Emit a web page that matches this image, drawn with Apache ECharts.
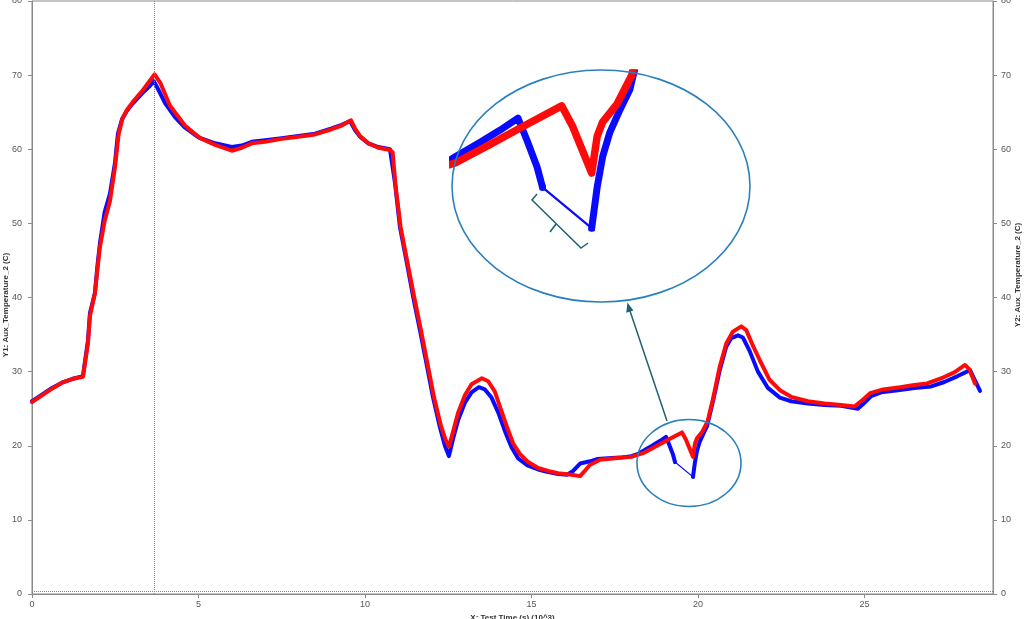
<!DOCTYPE html>
<html>
<head>
<meta charset="utf-8">
<script src="https://cdn.jsdelivr.net/npm/echarts@6/dist/echarts.min.js"></script>
<style>
html,body{margin:0;padding:0;background:#fff;}
#chart{width:1024px;height:619px;}
</style>
</head>
<body>
<div id="chart"></div>
<script>
// X: Test Time (s) (10^3), Y: Aux_Temperature_2 (C)
const xMin = 0;
const xMax = 28.86;
const yTicks = [0, 10, 20, 30, 40, 50, 60, 70, 80];
const xTicks = [0, 5, 10, 15, 20, 25];
const cursorX = 3.66;
const baseLineY = 0.4;
const gapStart = 19.31;
const gapEnd = 19.85;
const insetXRange = [18.326, 21.535];
const insetYRange = [12.28, 23.41];
const y1Title = 'Y1: Aux_Temperature_2 (C)';
const y2Title = 'Y2: Aux_Temperature_2 (C)';
const xTitle = 'X: Test Time (s) (10^3)';

const blueSeries = [
  [0,26.0],[0.3,26.9],[0.6,27.8],[0.9,28.5],[1.2,29.0],[1.53,29.4],[1.68,34.2],[1.74,37.9],
  [1.89,40.6],[1.97,44.5],[2.04,47.3],[2.18,51.5],[2.34,54.0],[2.49,58.1],[2.58,62.1],[2.7,64.0],
  [2.85,65.2],[3.03,66.2],[3.3,67.5],[3.55,68.6],[3.66,69.2],[3.8,68.0],[4.0,66.2],[4.3,64.3],
  [4.6,62.9],[5.0,61.6],[5.5,60.8],[6.0,60.3],[6.3,60.5],[6.6,61.0],[7.0,61.2],[7.5,61.5],
  [8.0,61.8],[8.5,62.1],[9.0,62.8],[9.3,63.3],[9.55,63.8],[9.7,62.6],[9.85,61.7],[10.1,60.8],
  [10.4,60.3],[10.75,60.0],[10.81,59.8],[10.9,55.5],[11.05,49.5],[11.26,44.6],[11.45,40.0],
  [11.65,35.6],[11.85,31.0],[12.04,26.6],[12.25,22.5],[12.4,20.0],[12.52,18.6],[12.65,21.0],
  [12.8,23.5],[13.0,25.8],[13.2,27.2],[13.42,27.9],[13.6,27.6],[13.8,26.5],[14.0,24.5],
  [14.2,22.0],[14.4,19.8],[14.6,18.3],[14.86,17.4],[15.2,16.8],[15.47,16.5],[15.8,16.2],
  [16.07,16.1],[16.25,16.6],[16.46,17.6],[16.76,17.9],[16.97,18.2],[17.3,18.3],[17.66,18.4],
  [18.0,18.6],[18.2,18.9],[18.35,19.3],[18.62,20.0],[18.84,20.6],[19.04,21.2],[19.14,20.1],
  [19.25,18.8],[19.31,17.8],[19.85,15.8],[19.91,17.8],[19.97,19.3],[20.05,20.5],[20.16,21.6],
  [20.27,22.6],[20.45,26.0],[20.66,30.3],[20.85,33.4],[21.0,34.5],[21.2,34.9],[21.35,34.6],
  [21.55,32.8],[21.8,30.0],[22.1,27.8],[22.46,26.5],[22.8,26.0],[23.3,25.7],[23.8,25.5],
  [24.3,25.4],[24.8,25.0],[25.0,25.8],[25.2,26.7],[25.5,27.2],[26.0,27.5],[26.5,27.8],
  [27.0,28.0],[27.4,28.6],[27.8,29.4],[28.17,30.2],[28.3,29.0],[28.47,27.4]
];

const redSeries = [
  [0,25.9],[0.3,26.8],[0.6,27.7],[0.9,28.5],[1.2,29.0],[1.53,29.3],[1.68,33.8],[1.74,37.5],
  [1.89,40.6],[1.97,44.0],[2.04,46.8],[2.18,50.3],[2.34,53.0],[2.49,57.5],[2.6,62.0],[2.72,64.2],
  [2.85,65.3],[3.03,66.4],[3.3,67.8],[3.55,69.3],[3.68,70.1],[3.85,69.0],[4.14,65.9],[4.59,63.2],
  [5.05,61.5],[5.5,60.6],[6.0,59.8],[6.3,60.2],[6.6,60.8],[7.0,61.0],[7.5,61.4],[8.0,61.7],
  [8.5,62.0],[9.0,62.7],[9.3,63.2],[9.58,63.9],[9.7,62.8],[9.85,61.8],[10.1,60.8],[10.4,60.2],
  [10.75,59.9],[10.83,59.6],[10.92,55.0],[11.07,49.5],[11.28,44.6],[11.48,40.0],[11.68,35.6],
  [11.88,31.0],[12.07,26.6],[12.28,22.7],[12.42,20.8],[12.52,19.9],[12.65,22.0],[12.8,24.5],
  [13.0,26.8],[13.2,28.3],[13.51,29.1],[13.7,28.7],[13.9,27.3],[14.05,25.3],[14.25,22.7],
  [14.45,20.3],[14.65,18.9],[14.9,17.8],[15.2,17.0],[15.5,16.6],[15.8,16.3],[16.2,16.1],
  [16.46,15.9],[16.6,16.6],[16.75,17.4],[17.06,18.1],[17.5,18.3],[18.0,18.5],[18.35,19.0],
  [18.73,19.9],[19.1,20.8],[19.52,21.8],[19.64,20.8],[19.75,19.6],[19.85,18.5],[19.91,20.3],
  [19.97,21.0],[20.13,21.9],[20.29,23.3],[20.45,26.3],[20.66,30.8],[20.85,33.8],[21.05,35.4],
  [21.3,36.1],[21.45,35.6],[21.65,33.5],[21.86,31.5],[22.15,28.9],[22.46,27.5],[22.8,26.6],
  [23.3,26.0],[23.8,25.7],[24.3,25.5],[24.7,25.3],[24.95,26.2],[25.17,27.1],[25.56,27.6],
  [26.07,27.9],[26.5,28.2],[26.88,28.4],[27.36,29.2],[27.7,29.9],[28.02,30.9],[28.15,30.3],
  [28.32,28.4]
];

const BLUE = '#0a0aff';
const RED = '#ff0a0a';
const TEAL = '#1e6272';
const RING = '#2a80bd';
const AXIS = '#8a8a8a';
const FONT = 'Liberation Sans, Arial, sans-serif';

const blueA = blueSeries.filter(p => p[0] <= gapStart);
const blueGap = blueSeries.filter(p => p[0] >= gapStart && p[0] <= gapEnd);
const blueB = blueSeries.filter(p => p[0] >= gapEnd);

function lineS(name, data, color, width, xi, yi, z, extra) {
  return Object.assign({
    name: name, type: 'line', data: data, xAxisIndex: xi, yAxisIndex: yi,
    showSymbol: false, symbol: 'none', smooth: false, z: z,
    lineStyle: { color: color, width: width, join: 'round', cap: 'round' },
    itemStyle: { color: color }, animation: false, silent: true
  }, extra || {});
}

const chart = echarts.init(document.getElementById('chart'), null, { renderer: 'canvas' });

const axisLabelStyle = { color: '#555', fontSize: 9, fontFamily: FONT };
const nameStyle = { color: '#333', fontSize: 8, fontWeight: 'bold', fontFamily: FONT };

const option = {
  backgroundColor: '#fff',
  animation: false,
  grid: [
    { left: 32, right: 31, top: 1, bottom: 25, containLabel: false, outerBoundsMode: 'none',
      show: true, borderColor: AXIS, borderWidth: 1, backgroundColor: 'transparent' },
    { left: 453, top: 73, width: 292, height: 227, containLabel: false, outerBoundsMode: 'none', show: false }
  ],
  xAxis: [
    {
      type: 'value', gridIndex: 0, min: xMin, max: xMax, interval: 5,
      name: xTitle, nameLocation: 'middle', nameGap: 20,
      nameTextStyle: nameStyle,
      axisLine: { show: true, lineStyle: { color: AXIS } },
      axisTick: { show: true, length: 4, lineStyle: { color: AXIS } },
      axisLabel: Object.assign({ margin: 6, showMaxLabel: false,
        formatter: v => (xTicks.indexOf(v) >= 0 ? String(v) : '') }, axisLabelStyle),
      splitLine: { show: false }
    },
    { type: 'value', gridIndex: 1, min: insetXRange[0], max: insetXRange[1], show: false }
  ],
  yAxis: [
    {
      type: 'value', gridIndex: 0, min: yTicks[0], max: yTicks[yTicks.length - 1], interval: 10,
      position: 'left',
      axisLine: { show: true, lineStyle: { color: AXIS } },
      axisTick: { show: true, length: 4, lineStyle: { color: AXIS } },
      axisLabel: Object.assign({ margin: 10 }, axisLabelStyle),
      splitLine: { show: false }
    },
    {
      type: 'value', gridIndex: 0, min: yTicks[0], max: yTicks[yTicks.length - 1], interval: 10,
      position: 'right',
      axisLine: { show: true, onZero: false, lineStyle: { color: AXIS } },
      axisTick: { show: true, length: 4, lineStyle: { color: AXIS } },
      axisLabel: Object.assign({ margin: 8 }, axisLabelStyle),
      splitLine: { show: false }
    },
    { type: 'value', gridIndex: 1, min: insetYRange[0], max: insetYRange[1], show: false }
  ],
  series: [
    lineS('Y1 blue', blueA, BLUE, 4, 0, 0, 2, {
      markLine: {
        silent: true, symbol: 'none', label: { show: false },
        lineStyle: { color: '#888', type: 'dotted', width: 1 },
        data: [{ xAxis: cursorX }, { yAxis: baseLineY }]
      }
    }),
    lineS('Y1 blue gap', blueGap, BLUE, 1.2, 0, 0, 2, { showSymbol: true, symbol: 'rect', symbolSize: 3 }),
    lineS('Y1 blue b', blueB, BLUE, 4, 0, 0, 2),
    lineS('Y2 red', redSeries, RED, 4, 0, 1, 3),
    lineS('inset blue', blueA, BLUE, 7, 1, 2, 4),
    lineS('inset blue gap', blueGap, BLUE, 2.2, 1, 2, 4, { showSymbol: true, symbol: 'rect', symbolSize: 6 }),
    lineS('inset blue b', blueB, BLUE, 7, 1, 2, 4),
    lineS('inset red', redSeries, RED, 7.5, 1, 2, 5)
  ],
  graphic: [
    { type: 'text', x: 6, y: 305, rotation: Math.PI / 2, silent: true,
      style: { text: y1Title, fill: '#333', font: 'bold 8px ' + FONT, align: 'center', verticalAlign: 'middle' } },
    { type: 'text', x: 1018, y: 275, rotation: Math.PI / 2, silent: true,
      style: { text: y2Title, fill: '#333', font: 'bold 8px ' + FONT, align: 'center', verticalAlign: 'middle' } },
    { type: 'ellipse', shape: { cx: 601, cy: 186, rx: 149, ry: 116 }, style: { fill: 'none', stroke: RING, lineWidth: 1.6 }, z: 10, silent: true },
    { type: 'ellipse', shape: { cx: 689, cy: 463, rx: 52, ry: 43.5 }, style: { fill: 'none', stroke: RING, lineWidth: 1.6 }, z: 10, silent: true },
    { type: 'line', shape: { x1: 667, y1: 421, x2: 629, y2: 308 }, style: { stroke: TEAL, lineWidth: 1.5 }, z: 10, silent: true },
    { type: 'polygon', shape: { points: [[627.5, 302.5], [633.4, 310.5], [626.2, 312.8]] }, style: { fill: TEAL }, z: 10, silent: true },
    { type: 'polyline', shape: { points: [[537, 194], [532, 200], [581, 248], [588, 243]] }, style: { stroke: TEAL, lineWidth: 1.5, fill: 'none' }, z: 10, silent: true },
    { type: 'line', shape: { x1: 556, y1: 224, x2: 550, y2: 232 }, style: { stroke: TEAL, lineWidth: 1.5 }, z: 10, silent: true }
  ]
};

chart.setOption(option);
</script>
</body>
</html>
